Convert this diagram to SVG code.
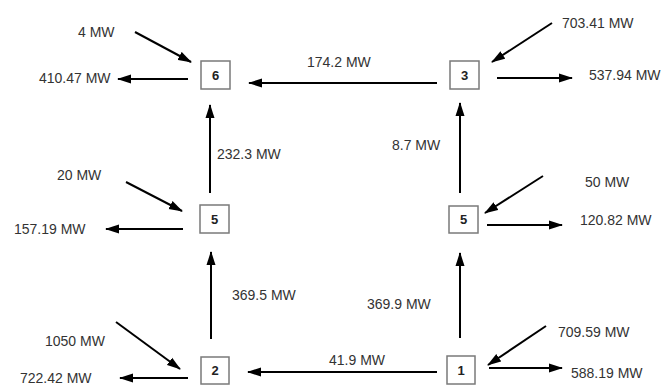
<svg xmlns="http://www.w3.org/2000/svg" width="665" height="385" viewBox="0 0 665 385">
<style>
.box{fill:#fff;stroke:#7a7a7a;stroke-width:1.5}
.num{font-family:"Liberation Sans",Arial,sans-serif;font-size:13px;font-weight:bold;fill:#222;text-anchor:middle}
.lbl{font-family:"Liberation Sans",Arial,sans-serif;font-size:14px;fill:#333}
.ar{stroke:#000;stroke-width:2;fill:none;marker-end:url(#ah)}
</style>
<defs>
<marker id="ah" markerUnits="userSpaceOnUse" markerWidth="14" markerHeight="10" refX="13" refY="5" orient="auto">
<path d="M0,0.5 L14,5 L0,9.5 z" fill="#000"/>
</marker>
</defs>
<rect width="665" height="385" fill="#fff"/>
<g id="connectors">
<line class="ar" x1="437" y1="83" x2="249" y2="83"/>
<line class="ar" x1="188" y1="79" x2="118" y2="79"/>
<line class="ar" x1="135" y1="32" x2="191" y2="62"/>
<line class="ar" x1="552" y1="23" x2="492" y2="62"/>
<line class="ar" x1="497" y1="78" x2="572" y2="78"/>
<line class="ar" x1="210" y1="193" x2="210" y2="105"/>
<line class="ar" x1="126" y1="182" x2="182" y2="211"/>
<line class="ar" x1="183" y1="229" x2="106" y2="229"/>
<line class="ar" x1="460" y1="193" x2="460" y2="103"/>
<line class="ar" x1="543" y1="176" x2="485" y2="213"/>
<line class="ar" x1="487" y1="225" x2="562" y2="225"/>
<line class="ar" x1="211" y1="339" x2="211" y2="252"/>
<line class="ar" x1="116" y1="322" x2="180" y2="369"/>
<line class="ar" x1="188" y1="378" x2="120" y2="378"/>
<line class="ar" x1="437" y1="372" x2="248" y2="372"/>
<line class="ar" x1="460" y1="338" x2="460" y2="253"/>
<line class="ar" x1="546" y1="326" x2="488" y2="365"/>
<line class="ar" x1="489" y1="368" x2="562" y2="368"/>
</g>
<g id="labels">
<text class="lbl" x="78" y="37">4 MW</text>
<text class="lbl" x="39" y="83">410.47 MW</text>
<text class="lbl" x="307" y="67">174.2 MW</text>
<text class="lbl" x="562" y="28">703.41 MW</text>
<text class="lbl" x="589" y="80">537.94 MW</text>
<text class="lbl" x="217" y="159">232.3 MW</text>
<text class="lbl" x="57" y="180">20 MW</text>
<text class="lbl" x="14" y="234">157.19 MW</text>
<text class="lbl" x="392" y="150">8.7 MW</text>
<text class="lbl" x="585" y="187">50 MW</text>
<text class="lbl" x="580" y="225">120.82 MW</text>
<text class="lbl" x="232" y="300">369.5 MW</text>
<text class="lbl" x="45" y="346">1050 MW</text>
<text class="lbl" x="20" y="383">722.42 MW</text>
<text class="lbl" x="329" y="365">41.9 MW</text>
<text class="lbl" x="367" y="309">369.9 MW</text>
<text class="lbl" x="558" y="337">709.59 MW</text>
<text class="lbl" x="571" y="378">588.19 MW</text>
</g>
<g id="node6"><rect class="box" x="201" y="61" width="29" height="28"/><text class="num" x="215.5" y="80">6</text></g>
<g id="node3"><rect class="box" x="450" y="61" width="29" height="28"/><text class="num" x="464.5" y="80">3</text></g>
<g id="node5a"><rect class="box" x="200" y="205" width="29" height="28"/><text class="num" x="214.5" y="224">5</text></g>
<g id="node5b"><rect class="box" x="449" y="206" width="29" height="27"/><text class="num" x="463.5" y="224">5</text></g>
<g id="node2"><rect class="box" x="201" y="357" width="28" height="27"/><text class="num" x="215" y="375">2</text></g>
<g id="node1"><rect class="box" x="447" y="356" width="28" height="28"/><text class="num" x="461" y="375">1</text></g>
</svg>
